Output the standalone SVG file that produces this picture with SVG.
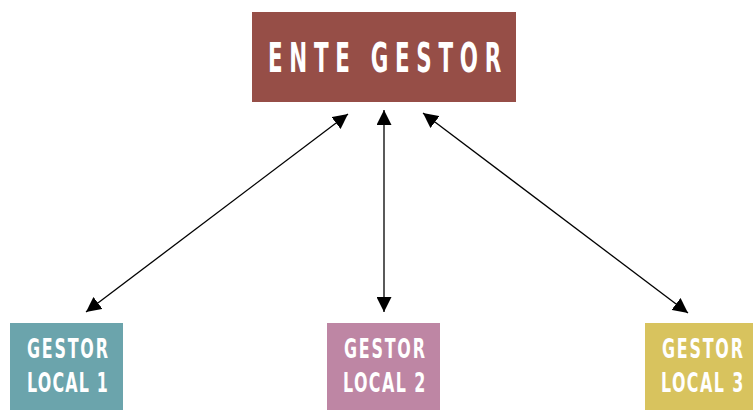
<svg xmlns="http://www.w3.org/2000/svg" width="753" height="410" viewBox="0 0 753 410">
<style>
.lbl{font-family:"DejaVu Sans Condensed","DejaVu Sans","Liberation Sans",sans-serif;font-weight:bold;font-style:normal;fill:#ffffff}
.top{font-size:41px}
.sm{font-size:26px}
.conn{stroke:#000;stroke-width:1.3;fill:none;marker-start:url(#ah);marker-end:url(#ah)}
</style>
<defs>
<marker id="ah" viewBox="0 0 10 10" refX="10" refY="5" markerWidth="15" markerHeight="15" markerUnits="userSpaceOnUse" orient="auto-start-reverse">
<path d="M0,0 L10,5 L0,10 z" fill="#000"/>
</marker>
</defs>
<g id="connectors">
<line class="conn" x1="348" y1="114" x2="86" y2="312"/>
<line class="conn" x1="384" y1="110" x2="384" y2="312"/>
<line class="conn" x1="423" y1="113" x2="688" y2="313"/>
</g>
<g id="ente-gestor">
<rect x="252" y="12" width="264" height="90" fill="#964E47"/>
<text class="lbl top" transform="translate(268,72) scale(0.58,1)" x="0" y="0" textLength="402" lengthAdjust="spacing">ENTE GESTOR</text>
</g>
<g id="gestor-local-1">
<rect x="10" y="323" width="113" height="87" fill="#6BA4AC"/>
<text class="lbl sm" transform="translate(27,358) scale(0.68,1)" textLength="119" lengthAdjust="spacing">GESTOR</text>
<text class="lbl sm" transform="translate(27,392) scale(0.68,1)" textLength="119" lengthAdjust="spacing">LOCAL 1</text>
</g>
<g id="gestor-local-2">
<rect x="327" y="323" width="113" height="87" fill="#BE86A4"/>
<text class="lbl sm" transform="translate(344,358) scale(0.68,1)" textLength="119" lengthAdjust="spacing">GESTOR</text>
<text class="lbl sm" transform="translate(343,392) scale(0.68,1)" textLength="121" lengthAdjust="spacing">LOCAL 2</text>
</g>
<g id="gestor-local-3">
<rect x="645" y="323" width="108" height="87" fill="#D8C35E"/>
<text class="lbl sm" transform="translate(662,358) scale(0.68,1)" textLength="119" lengthAdjust="spacing">GESTOR</text>
<text class="lbl sm" transform="translate(661,392) scale(0.68,1)" textLength="121" lengthAdjust="spacing">LOCAL 3</text>
</g>
</svg>
